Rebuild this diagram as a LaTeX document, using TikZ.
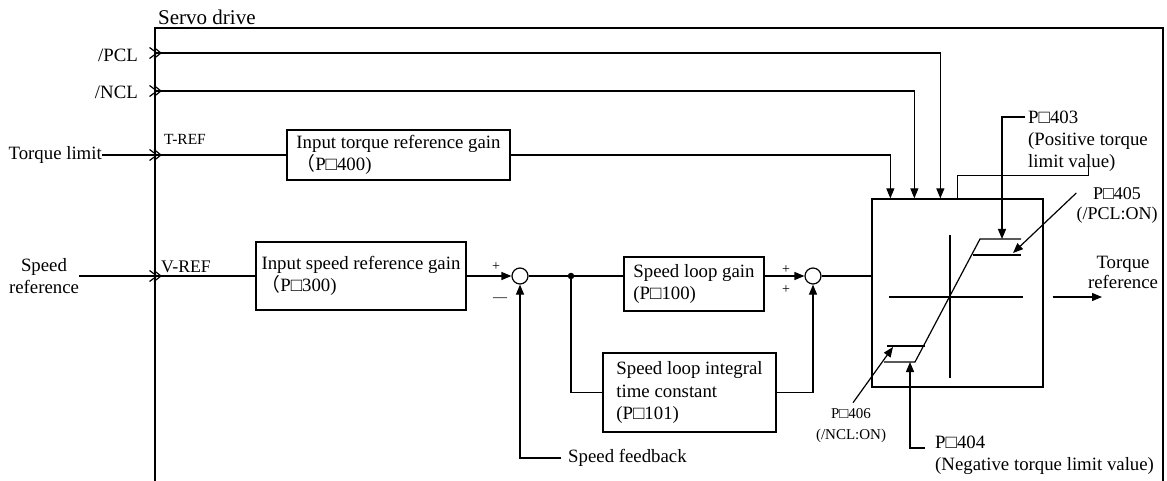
\documentclass[tikz,border=0pt]{standalone}
\usepackage{fontspec}
\setmainfont{Liberation Serif}
\newfontfamily\cjkfont{Noto Sans CJK SC}
\usetikzlibrary{arrows.meta,positioning,calc}
\newcommand\fpar{{\cjkfont （}}
\tikzset{
  wire/.style ={line width=1.2pt},
  sig/.style  ={wire,-{Triangle[length=10pt,width=8pt]}},
  blk/.style  ={draw,line width=1.3pt,align=left,inner sep=0pt,
                font=\fontsize{18.8}{22.5}\selectfont},
  lbl/.style  ={inner sep=0pt,font=\fontsize{18.8}{22}\selectfont},
  sml/.style  ={inner sep=0pt,font=\fontsize{15}{21}\selectfont},
  sgn/.style  ={inner sep=0pt,font=\fontsize{14}{14}\selectfont},
  sumc/.style ={circle,draw,line width=1.2pt,minimum size=16pt,inner sep=0pt},
  jdot/.style ={circle,fill,inner sep=0pt,minimum size=6.5pt},
  chev/.pic   ={\draw[line width=1.2pt] (-5.5,5.5) -- (2,0) -- (-5.5,-5.5)
                                        (-1,5.5) -- (6,0) -- (-1,-5.5);},
}

\begin{document}
\begin{tikzpicture}[x=1pt,y=1pt]
\useasboundingbox (0,0) rectangle (1167,-481);

% ---- drive frame ---------------------------------------------------------
\draw[line width=1.3pt] (155,-481) |- (1163,-28) -- (1163,-481);
\node[lbl,font=\fontsize{21}{24}\selectfont,anchor=base west] (title) at (158,-25) {Servo drive};

% ---- inputs --------------------------------------------------------------
\node[lbl,anchor=east] (lblPCL) at (138,-55) {/PCL};
\node[lbl,anchor=east] (lblNCL) at (138,-92) {/NCL};
\node[lbl,anchor=east] (lblTlim) at (102,-155) {Torque limit};
\node[lbl,align=center] (lblSpd) at (44,-276) {Speed\\reference};
\node[lbl,font=\fontsize{15.5}{18}\selectfont,anchor=base west] (lblTREF) at (164,-145) {T-REF};
\node[lbl,font=\fontsize{17.7}{20}\selectfont,anchor=base west] (lblVREF) at (161,-272) {V-REF};
\coordinate (inPCL) at (155,-53);
\coordinate (inNCL) at (155,-91);
\coordinate (inT)   at (155,-155);
\coordinate (inV)   at (155,-276);
\foreach \c in {inPCL,inNCL,inT,inV} \pic at (\c) {chev};

% ---- speed loop ----------------------------------------------------------
\node[blk,minimum width=223pt,minimum height=50pt] (tgain) at (398.5,-155)
  {Input torque reference gain\\\fpar P□400)};
\node[blk,minimum width=210pt,minimum height=68pt] (vgain) at (361,-276)
  {Input speed reference gain\\\fpar P□300)};
\node[sumc] (sum1) at (520,-276) {};
\node[jdot] (jn) at (571,-276) {};
\node[blk,minimum width=140pt,minimum height=54pt] (kp) at (694,-284)
  {Speed loop gain\\(P□100)};
\node[blk,minimum width=173pt,minimum height=79pt] (ki) at (689.5,-392.5)
  {Speed loop integral\\time constant\\(P□101)};
\node[sumc] (sum2) at (813,-276) {};
\node[sgn] (plus1)  at (496,-267) {+};
\node[sgn] (minus1) at (500,-300) {\textemdash};
\node[sgn] (plus2a) at (786,-270) {+};
\node[sgn] (plus2b) at (786,-290) {+};
\node[lbl,anchor=west,inner xsep=7pt] (lblFb) at (561,-458) {Speed feedback};

% ---- torque limiter ------------------------------------------------------
\node[draw,line width=1.3pt,minimum width=171pt,minimum height=188pt] (lim) at (957.5,-293) {};
\draw[wire] (889,-297) -- (1023,-297);
\draw[wire] (950,-235) -- (950,-378);
\draw[wire] (1021,-239) -- (980,-239) -- (915,-362) -- (884,-362);
\draw[wire] (973,-255) -- (1021,-255);
\draw[wire] (925,-346) -- (887,-346);
\coordinate (t403) at (1002,-239);
\coordinate (t405) at (1013,-253);
\coordinate (t406) at (893,-347);
\coordinate (t404) at (910,-362);
\node[lbl,align=center,font=\fontsize{18.8}{20}\selectfont] (lblOut) at (1123,-272) {Torque\\reference};
\node[lbl,align=left,anchor=west,inner xsep=3pt] (lbl403) at (1025,-141)
  {P□403\\(Positive torque\\limit value)};
\node[lbl,align=center,font=\fontsize{18}{20}\selectfont] (lbl405) at (1117,-205) {P□405\\(/PCL:ON)};
\node[sml,align=center] (lbl406) at (851,-426) {P□406\\(/NCL:ON)};
\node[lbl,align=left,anchor=west] (lbl404) at (935,-455) {P□404\\(Negative torque limit value)};

% ---- connectors ----------------------------------------------------------
\path (lim.north west) ++(19,0) coordinate (topT) ++(24,0) coordinate (topN) ++(26,0) coordinate (topP);
\draw[wire] (lblTlim.east) -- (tgain.west);
\draw[sig] (tgain.east) -| (topT);
\draw[sig] (inNCL) -| (topN);
\draw[sig] (inPCL) -| (topP);
\draw[wire] (lblSpd.east) -- (vgain.west);
\draw[sig] (vgain.east) -- (sum1.west);
\draw[wire] (sum1.east) -- (jn) -- (jn -| kp.west);
\draw[wire] (jn) |- (ki.west);
\draw[sig] (jn -| kp.east) -- (sum2.west);
\draw[sig] (ki.east) -| (sum2.south);
\draw[wire] (sum2.east) -- (sum2.east -| lim.west);
\draw[sig] (lblFb.west) -| (sum1.south);
\draw[wire] (lim.north) -- ++(0,23) -- ++(131,0) -- ++(0,11);
\coordinate (outS) at ([shift={(9,-4)}]lim.east);
\coordinate (outE) at (1102,-297);
\draw[sig] (outS) -- (outE);
\draw[sig] ([yshift=24]lbl403.west) -| (t403);
\draw[sig] ([yshift=12]lbl405.west) -- (t405);
\draw[sig] ([shift={(2,6)}]lbl406.north) -- (t406);
\draw[sig] ([shift={(-10,7)}]lbl404.west) -| (t404);
\end{tikzpicture}
\end{document}
